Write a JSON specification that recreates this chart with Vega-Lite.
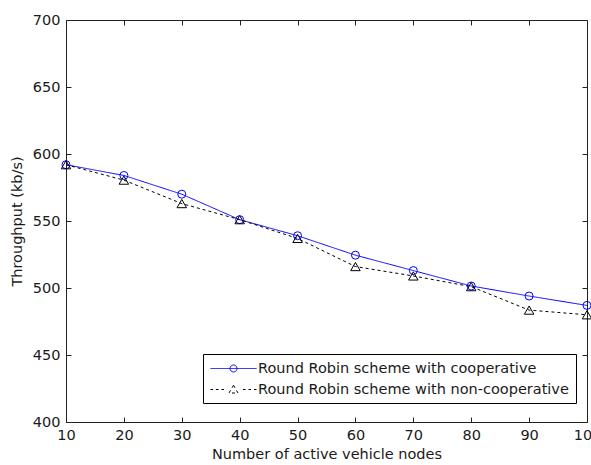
{
  "$schema": "https://vega.github.io/schema/vega-lite/v6.json",
  "width": 521,
  "height": 402,
  "autosize": {"type": "none"},
  "padding": {"left": 66, "top": 20, "right": 4, "bottom": 43},
  "background": "#ffffff",
  "data": {
    "values": [
      {"nodes": 10, "throughput": 592, "series": "Round Robin scheme with cooperative"},
      {"nodes": 20, "throughput": 584, "series": "Round Robin scheme with cooperative"},
      {"nodes": 30, "throughput": 570, "series": "Round Robin scheme with cooperative"},
      {"nodes": 40, "throughput": 551, "series": "Round Robin scheme with cooperative"},
      {"nodes": 50, "throughput": 539, "series": "Round Robin scheme with cooperative"},
      {"nodes": 60, "throughput": 524.5, "series": "Round Robin scheme with cooperative"},
      {"nodes": 70, "throughput": 513, "series": "Round Robin scheme with cooperative"},
      {"nodes": 80, "throughput": 501.5, "series": "Round Robin scheme with cooperative"},
      {"nodes": 90, "throughput": 494, "series": "Round Robin scheme with cooperative"},
      {"nodes": 100, "throughput": 487, "series": "Round Robin scheme with cooperative"},
      {"nodes": 10, "throughput": 592, "series": "Round Robin scheme with non-cooperative"},
      {"nodes": 20, "throughput": 580.5, "series": "Round Robin scheme with non-cooperative"},
      {"nodes": 30, "throughput": 563, "series": "Round Robin scheme with non-cooperative"},
      {"nodes": 40, "throughput": 551, "series": "Round Robin scheme with non-cooperative"},
      {"nodes": 50, "throughput": 537, "series": "Round Robin scheme with non-cooperative"},
      {"nodes": 60, "throughput": 516, "series": "Round Robin scheme with non-cooperative"},
      {"nodes": 70, "throughput": 509, "series": "Round Robin scheme with non-cooperative"},
      {"nodes": 80, "throughput": 501, "series": "Round Robin scheme with non-cooperative"},
      {"nodes": 90, "throughput": 483.5, "series": "Round Robin scheme with non-cooperative"},
      {"nodes": 100, "throughput": 480, "series": "Round Robin scheme with non-cooperative"}
    ]
  },
  "config": {
    "font": "DejaVu Sans",
    "view": {"stroke": null},
    "axis": {
      "grid": false,
      "labelFont": "DejaVu Sans",
      "labelFontSize": 14.5,
      "labelColor": "#1a1a1a",
      "titleFont": "DejaVu Sans",
      "titleFontSize": 14.5,
      "titleFontWeight": "normal",
      "titleColor": "#1a1a1a",
      "domainColor": "#222222",
      "domainWidth": 1,
      "tickColor": "#222222",
      "tickWidth": 1,
      "tickSize": -5,
      "labelPadding": 11
    }
  },
  "layer": [
    {
      "mark": {"type": "line", "strokeWidth": 1},
      "encoding": {
        "x": {
          "field": "nodes", "type": "quantitative",
          "scale": {"domain": [10, 100], "nice": false, "zero": false},
          "axis": {"orient": "bottom", "title": "Number of active vehicle nodes", "values": [10, 20, 30, 40, 50, 60, 70, 80, 90, 100], "titlePadding": 6, "labelFlush": false}
        },
        "y": {
          "field": "throughput", "type": "quantitative",
          "scale": {"domain": [400, 700], "nice": false, "zero": false},
          "axis": {"orient": "left", "title": "Throughput (kb/s)", "values": [400, 450, 500, 550, 600, 650, 700], "titlePadding": 8}
        },
        "color": {
          "field": "series", "type": "nominal",
          "scale": {"domain": ["Round Robin scheme with cooperative", "Round Robin scheme with non-cooperative"], "range": ["#0000ff", "#000000"]},
          "legend": {
            "orient": "none",
            "legendX": 137,
            "legendY": 334,
            "title": null,
            "symbolSize": 196,
            "symbolStrokeWidth": 1,
            "labelOffset": 33,
            "labelFont": "DejaVu Sans",
            "labelFontSize": 14.5,
            "labelColor": "#1a1a1a",
            "labelLimit": 0,
            "padding": 7,
            "rowPadding": 6,
            "strokeColor": "#000000",
            "fillColor": "#ffffff",
            "encode": {
              "symbols": {
                "update": {
                  "shape": {"signal": "datum.value === 'Round Robin scheme with cooperative' ? 'M-1,0H5.571M2.786,0A0.5,0.5 0 1,1 1.786,0A0.5,0.5 0 1,1 2.786,0' : 'M-1,0H-0.643M-0.214,0H0.143M0.571,0H0.929M3.643,0H4M4.429,0H4.786M5.214,0H5.571M2.286,-0.6L2.929,0.5L1.643,0.5Z'"},
                  "fill": {"value": "transparent"},
                  "strokeDash": {"value": []}
                }
              }
            }
          }
        },
        "strokeDash": {
          "field": "series", "type": "nominal",
          "scale": {"domain": ["Round Robin scheme with cooperative", "Round Robin scheme with non-cooperative"], "range": [[1, 0], [3, 3]]},
          "legend": null
        }
      }
    },
    {
      "transform": [{"filter": "datum.series === 'Round Robin scheme with cooperative'"}],
      "mark": {"type": "point", "shape": "circle", "filled": false, "strokeWidth": 1, "size": 64, "opacity": 1, "color": "#0000ff"},
      "encoding": {
        "x": {
          "field": "nodes", "type": "quantitative",
          "axis": {"orient": "top", "labels": false, "title": null, "values": [10, 20, 30, 40, 50, 60, 70, 80, 90, 100]}
        },
        "y": {
          "field": "throughput", "type": "quantitative",
          "axis": {"orient": "right", "labels": false, "title": null, "values": [400, 450, 500, 550, 600, 650, 700]}
        }
      }
    },
    {
      "transform": [{"filter": "datum.series === 'Round Robin scheme with non-cooperative'"}],
      "mark": {"type": "point", "shape": "triangle-up", "filled": false, "strokeWidth": 1, "size": 90, "opacity": 1, "color": "#000000"},
      "encoding": {
        "x": {"field": "nodes", "type": "quantitative", "axis": null},
        "y": {"field": "throughput", "type": "quantitative", "axis": null}
      }
    }
  ]
}
